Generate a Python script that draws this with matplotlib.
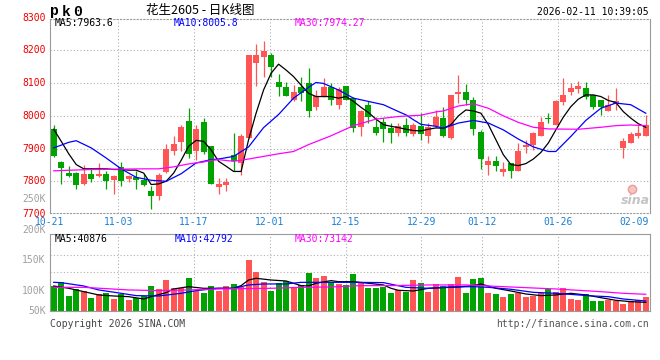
import numpy as np
import matplotlib
matplotlib.use("Agg")
import matplotlib.pyplot as plt
from matplotlib.lines import Line2D

# ---------------------------------------------------------------------------
# Data (peanut futures 2605, daily K-line)
# ---------------------------------------------------------------------------
OPEN = [7960, 7858, 7825, 7825, 7793, 7823, 7815, 7823, 7803, 7843,
        7807, 7812, 7805, 7770, 7754, 7827, 7891, 7920, 7983, 7891,
        7980, 7909, 7783, 7788, 7881, 7856, 7932, 8160, 8181, 8186,
        8102, 8087, 8049, 8087, 8099, 8028, 8061, 8087, 8033, 8091,
        8054, 7965, 8033, 7967, 7980, 7964, 7949, 7973, 7945, 7970,
        7939, 7970, 7993, 7932, 8066, 8074, 8049, 7952, 7849, 7863,
        7827, 7856, 7830, 7906, 7911, 7939, 7992, 7973, 8041, 8074,
        8081, 8084, 8064, 8049, 8016, 8036, 7902, 7917, 7939, 7937]
HIGH = [7972, 7862, 7848, 7828, 7851, 7840, 7856, 7830, 7820, 7860,
        7820, 7830, 7823, 7785, 7825, 7915, 7939, 7973, 8025, 7973,
        7993, 7909, 7810, 7810, 7949, 7945, 8186, 8219, 8228, 8193,
        8128, 8103, 8094, 8120, 8145, 8079, 8115, 8099, 8089, 8091,
        8059, 8018, 8044, 7996, 7993, 7978, 7978, 7993, 7978, 8008,
        7978, 8018, 8028, 8064, 8125, 8097, 8059, 7957, 7876, 7876,
        7858, 7856, 7917, 7927, 7952, 7996, 8008, 8049, 8115, 8099,
        8107, 8102, 8064, 8049, 8064, 8084, 7932, 7952, 7973, 8003]
LOW = [7875, 7793, 7812, 7775, 7790, 7798, 7813, 7777, 7760, 7787,
       7797, 7777, 7785, 7714, 7742, 7825, 7881, 7894, 7871, 7866,
       7884, 7793, 7760, 7770, 7830, 7818, 7932, 8091, 8118, 8120,
       8061, 8061, 8044, 8044, 7996, 8018, 8059, 8033, 8021, 8047,
       7952, 7937, 7978, 7940, 7919, 7917, 7937, 7937, 7939, 7927,
       7917, 7967, 7935, 7930, 8039, 8033, 7942, 7838, 7820, 7830,
       7817, 7809, 7830, 7886, 7896, 7937, 7978, 7973, 8034, 8064,
       8071, 8051, 8020, 8003, 8016, 8018, 7871, 7917, 7932, 7937]
CLOSE = [7878, 7841, 7817, 7788, 7823, 7808, 7823, 7800, 7815, 7800,
         7815, 7805, 7788, 7754, 7818, 7900, 7915, 7967, 7884, 7961,
         7888, 7793, 7792, 7797, 7861, 7939, 8186, 8186, 8199, 8150,
         8087, 8062, 8074, 8071, 8016, 8061, 8087, 8049, 8081, 8049,
         7962, 8016, 7996, 7947, 7961, 7949, 7970, 7949, 7973, 7943,
         7967, 7996, 7937, 8064, 8074, 8047, 7959, 7868, 7863, 7846,
         7838, 7830, 7894, 7911, 7949, 7980, 7990, 8044, 8064, 8084,
         8091, 8059, 8028, 8026, 8033, 8044, 7922, 7945, 7947, 7973]

# volume in thousands (K)
VOL_K = [108.2, 114.2, 92.4, 102.8, 100.6, 89.1, 95.1, 96.2, 86.9, 95.1,
         85.3, 89.1, 91.8, 108.2, 103.3, 118.6, 104.4, 105.5, 121.9, 100.0,
         97.3, 108.2, 100.0, 108.2, 111.5, 106.6, 151.4, 131.7, 115.3, 100.6,
         113.7, 116.4, 107.1, 109.9, 130.1, 120.8, 125.1, 114.2, 110.9, 109.9,
         127.9, 114.2, 105.5, 105.5, 106.6, 96.7, 101.1, 98.9, 118.0, 113.7,
         98.4, 112.0, 108.2, 111.5, 123.0, 96.7, 119.7, 121.9, 96.7, 95.1,
         90.7, 95.1, 96.2, 90.7, 92.4, 97.3, 103.8, 98.9, 105.5, 87.4,
         85.3, 95.1, 83.6, 84.2, 85.3, 84.2, 78.7, 84.2, 84.7, 90.7]

# price moving averages as drawn on the chart
MA5 = [7959, 7922, 7884, 7851, 7838, 7838, 7838, 7838, 7836, 7836,
       7834, 7834, 7825, 7790, 7792, 7800, 7825, 7864, 7907, 7925,
       7922, 7896, 7861, 7846, 7830, 7830, 7927, 8008, 8079, 8130,
       8158, 8140, 8120, 8094, 8069, 8059, 8059, 8059, 8054, 8059,
       8044, 8026, 8010, 7990, 7973, 7968, 7964, 7959, 7955, 7954,
       7959, 7963, 7962, 7973, 8000, 8018, 8015, 8008, 7973, 7927,
       7881, 7851, 7848, 7854, 7868, 7888, 7917, 7957, 7996, 8028,
       8051, 8064, 8064, 8059, 8047, 8041, 8013, 7993, 7976, 7965]
MA10_IDX = [0, 2, 3, 5, 7, 9, 11, 13, 15, 17, 19, 21, 22, 24, 26, 28, 30, 32,
            34, 35, 36, 38, 40, 42, 44, 46, 47, 48, 49, 51, 52, 54, 56, 58,
            60, 62, 64, 66, 67, 69, 71, 73, 75, 77, 79]
MA10 = [7902, 7919, 7924, 7902, 7871, 7838, 7812, 7803, 7800, 7823, 7856,
        7866, 7868, 7876, 7905, 7964, 8004, 8054, 8087, 8102, 8099, 8079,
        8054, 8044, 8034, 8013, 8003, 7988, 7974, 7968, 7962, 7978, 7986,
        7978, 7957, 7929, 7905, 7891, 7891, 7937, 7986, 8023, 8039, 8034,
        8008]
MA30_IDX = [0, 5, 12, 14, 16, 18, 20, 21, 22, 24, 26, 28, 30, 32, 34, 37, 40,
            43, 46, 49, 51, 52, 54, 56, 58, 60, 62, 64, 66, 70, 73, 75, 77, 79]
MA30 = [7832, 7836, 7838, 7838, 7844, 7853, 7859, 7864, 7866, 7861, 7868,
        7876, 7884, 7891, 7912, 7939, 7970, 7990, 7998, 8002, 8012, 8015,
        8030, 8037, 8023, 8000, 7980, 7965, 7960, 7959, 7965, 7970, 7972,
        7970]

# volume moving averages (K)
VMA5_IDX = [0, 2, 4, 6, 8, 10, 12, 13, 15, 16, 18, 20, 22, 24, 25, 26, 27, 29,
            31, 33, 34, 35, 37, 38, 40, 42, 44, 45, 46, 48, 50, 52, 54, 56,
            57, 59, 61, 63, 65, 67, 69, 71, 73, 75, 77, 79]
VMA5 = [108.2, 104.4, 98.9, 93.5, 91.8, 90.7, 86.9, 90.7, 97.3, 103.3,
        107.1, 104.4, 104.4, 104.4, 108.8, 118.0, 120.8, 118.0, 116.4, 108.8,
        108.2, 112.6, 117.0, 115.3, 115.3, 112.6, 109.9, 104.4, 101.1, 100.0,
        104.4, 105.5, 106.6, 108.8, 111.5, 104.4, 100.0, 95.1, 92.4, 93.5,
        96.2, 93.5, 89.1, 84.7, 82.5, 81.4]
VMA10_IDX = [0, 1, 4, 6, 9, 11, 14, 17, 19, 22, 24, 26, 28, 31, 33, 37, 40,
             44, 47, 50, 53, 56, 58, 61, 64, 67, 70, 72, 74, 76, 79]
VMA10 = [114.2, 113.7, 108.2, 101.7, 96.2, 92.4, 91.8, 96.2, 100.6, 104.4,
         104.4, 109.9, 111.5, 111.5, 114.2, 114.2, 114.2, 113.7, 106.0, 104.4,
         106.6, 107.1, 106.0, 102.8, 97.8, 96.2, 93.5, 91.8, 90.7, 86.9, 83.6]
VMA30_IDX = [0, 4, 10, 14, 18, 22, 29, 33, 37, 41, 45, 50, 55, 58, 62, 67,
             70, 73, 76, 79]
VMA30 = [106.0, 106.0, 101.7, 100.6, 101.7, 103.3, 104.4, 106.0, 106.6,
         108.8, 108.8, 109.9, 109.9, 108.2, 106.0, 103.3, 101.1, 98.9, 96.2,
         94.6]

DATE_LABELS = ["10-21", "11-03", "11-17", "12-01", "12-15", "12-29",
               "01-12", "01-26", "02-09"]
DATE_IDX = [0, 9, 19, 29, 39, 49, 57, 67, 77]

PRICE_LABELS = [8300, 8200, 8100, 8000, 7900, 7800, 7700]
VOL_LABELS = [250, 200, 150, 100]

# ---------------------------------------------------------------------------
# Style
# ---------------------------------------------------------------------------
W, H = 660, 360
MONO = "DejaVu Sans Mono"
CJK = ["Noto Sans CJK SC", "DejaVu Sans"]
RED = "#ff5555"
GREEN = "#00a300"
FRAME = "#9a9a9a"
GRID = "#b0b0b0"
DATE_BLUE = "#1a7fd4"
DOT = (0, (1, 2))
GRID_STEP = 7.586 / 7.5   # sina's date grid drifts slightly vs. candle slots


def fx(px):
    return px / W


def fy(py):
    return 1 - py / H


fig = plt.figure(figsize=(6.6, 3.6), dpi=100)
fig.patch.set_facecolor("white")

axp = fig.add_axes([fx(50), fy(213), (649.5 - 50) / W, (213 - 19) / H])
axv = fig.add_axes([fx(50), fy(311), (649.5 - 50) / W, (311 - 234) / H])

x = np.arange(len(CLOSE))
o, h, l, c = (np.array(a, dtype=float) for a in (OPEN, HIGH, LOW, CLOSE))
colors = np.where(c >= o, RED, GREEN)
grid_x = [i * GRID_STEP - 0.5 for i in DATE_IDX]

# ---------------------------------------------------------------------------
# Price panel
# ---------------------------------------------------------------------------
axp.set_xlim(-0.5, len(CLOSE) - 0.5)
axp.set_ylim(7703, 8296)
for p in PRICE_LABELS[1:-1]:
    axp.axhline(p, color=GRID, lw=0.8, ls=DOT, zorder=0)
for gx in grid_x[1:-1]:
    axp.axvline(gx, color=GRID, lw=0.8, ls=DOT, zorder=0)

axp.vlines(x, l, h, colors=colors, lw=0.9, zorder=2)
axp.bar(x, np.maximum(np.abs(c - o), 2.5), bottom=np.minimum(o, c),
        width=0.8, color=colors, linewidth=0, zorder=3)

axp.plot(x, MA5, color="black", lw=0.9, zorder=4)
axp.plot(MA10_IDX, MA10, color="#0000ff", lw=0.9, zorder=4)
axp.plot(MA30_IDX, MA30, color="#ff00ff", lw=0.9, zorder=4)

axp.set_yticks([])
axp.set_xticks(grid_x)
axp.set_xticklabels(DATE_LABELS, family=MONO, fontsize=7, color=DATE_BLUE)
axp.tick_params(axis="x", length=0, pad=3)
for side in ("left", "right"):
    axp.spines[side].set_color(FRAME)
for side in ("top", "bottom"):
    axp.spines[side].set_color(FRAME)
    axp.spines[side].set_linestyle(DOT)

for p in PRICE_LABELS:
    axp.text(-0.007, p, str(p), transform=axp.get_yaxis_transform(),
             ha="right", va="center", family=MONO, fontsize=7,
             color="#ee0000", clip_on=False)

# ---------------------------------------------------------------------------
# Volume panel
# ---------------------------------------------------------------------------
axv.set_xlim(-0.5, len(CLOSE) - 0.5)
axv.set_ylim(67.2, 193.4)
for gy in (158.5, 130.7):
    axv.axhline(gy, color=GRID, lw=0.8, ls=DOT, zorder=0)
for gx in grid_x[1:-1]:
    axv.axvline(gx, color=GRID, lw=0.8, ls=DOT, zorder=0)

axv.bar(x, VOL_K, width=0.8, color=colors, linewidth=0, zorder=2)
axv.plot(VMA5_IDX, VMA5, color="black", lw=0.9, zorder=3)
axv.plot(VMA10_IDX, VMA10, color="#0000ff", lw=0.9, zorder=3)
axv.plot(VMA30_IDX, VMA30, color="#ff00ff", lw=0.9, zorder=3)

axv.set_xticks([])
axv.set_yticks([])
for s in axv.spines.values():
    s.set_color(FRAME)

for v in VOL_LABELS:
    axv.text(-0.007, v, f"{v}K", transform=axv.get_yaxis_transform(),
             ha="right", va="center", family=MONO, fontsize=7,
             color="#a0a0a0", clip_on=False)
axv.text(-0.007, 0.0, "50K", transform=axv.transAxes, ha="right",
         va="center", family=MONO, fontsize=7, color="#a0a0a0")

# ---------------------------------------------------------------------------
# Header / footer texts
# ---------------------------------------------------------------------------
for px, ch in zip((54.5, 66.5, 78), "pk0"):
    fig.text(fx(px), fy(15.5), ch, ha="center", va="baseline",
             family="Liberation Mono", fontweight="bold", fontsize=10.5)
fig.text(fx(200), fy(10.5), "花生2605 - 日K线图", ha="center", va="center",
         family=CJK, fontsize=9)
fig.text(fx(649), fy(12), "2026-02-11 10:39:05", ha="right", va="center",
         family=MONO, fontsize=7)

hdr = [("MA5:7963.6", 55, "black"), ("MA10:8005.8", 174, "#0000ff"),
       ("MA30:7974.27", 295, "#ff00ff")]
for txt, px, col in hdr:
    fig.text(fx(px), fy(23.5), txt, ha="left", va="center", family=MONO,
             fontsize=7, color=col)
vhdr = [("MA5:40876", 55, "black"), ("MA10:42792", 175, "#0000ff"),
        ("MA30:73142", 295, "#ff00ff")]
for txt, px, col in vhdr:
    fig.text(fx(px), fy(238.5), txt, ha="left", va="center", family=MONO,
             fontsize=7, color=col)

fig.text(fx(50), fy(324), "Copyright 2026 SINA.COM", ha="left", va="center",
         family=MONO, fontsize=7, color="#444444")
fig.text(fx(649), fy(324), "http://finance.sina.com.cn", ha="right",
         va="center", family=MONO, fontsize=7, color="#555555")

# sina watermark
fig.add_artist(Line2D([fx(632)], [fy(189)], marker="o", ms=6, mfc="#f7c4c4",
                      mec="#f09a9a", mew=1, transform=fig.transFigure))
fig.text(fx(635), fy(200), "sina", ha="center", va="center", fontsize=9,
         fontweight="bold", style="italic", color="#c4c4c4")

fig.savefig("out.png", dpi=100, facecolor="white")
